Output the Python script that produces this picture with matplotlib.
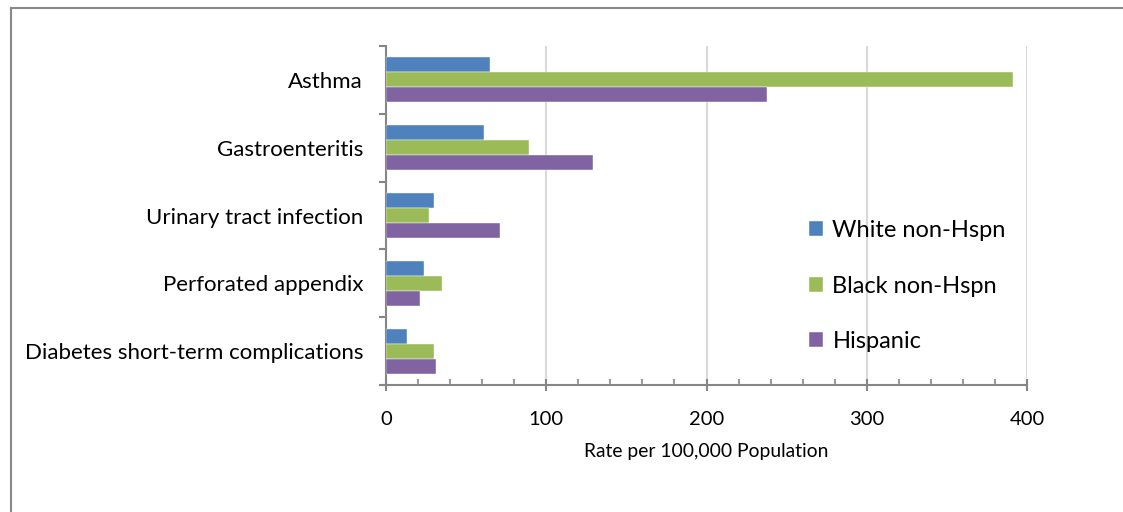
import matplotlib
matplotlib.use("Agg")
import matplotlib.pyplot as plt
import numpy as np
from matplotlib.lines import Line2D
from matplotlib.ticker import MultipleLocator, FixedLocator

categories = ["Asthma", "Gastroenteritis", "Urinary tract infection",
              "Perforated appendix", "Diabetes short-term complications"]
series_names = ["White non-Hspn", "Black non-Hspn", "Hispanic"]
white = [65, 61, 30, 24, 13]
black = [391, 89, 27, 35, 30]
hispanic = [238, 129, 71, 21, 31]
colors = ["#4F81BD", "#9BBB59", "#8064A2"]

plt.rcParams['font.family'] = ['Lato', 'DejaVu Sans']

W, H = 1123, 512
fig = plt.figure(figsize=(W / 100, H / 100), dpi=100)
ax = fig.add_axes([386 / W, 1 - 385 / H, (1027 - 386) / W, (385 - 46) / H])

n = len(categories)
ypos = np.arange(n)[::-1].astype(float)  # Asthma at top
h = 0.221
for i, (vals, name, c) in enumerate(zip([white, black, hispanic], series_names, colors)):
    off = (1 - i) * h
    ax.barh(ypos + off, vals, height=h, color=c, label=name, zorder=3,
            edgecolor='white', linewidth=0.3)

ax.set_xlim(0, 400)
ax.set_ylim(-0.5, n - 0.5)
ax.xaxis.set_major_locator(MultipleLocator(100))
ax.xaxis.set_minor_locator(MultipleLocator(20))
ax.grid(axis='x', which='major', color='#D9D9D9', linewidth=1.5, zorder=0)

ax.yaxis.set_major_locator(FixedLocator(np.arange(-0.5, n, 1.0)))
ax.yaxis.set_minor_locator(FixedLocator(ypos))
ax.set_yticklabels([], minor=False)
ax.set_yticklabels(categories, minor=True)
ax.tick_params(axis='y', which='major', length=5, width=1.5, color='#868686', direction='out')
ax.tick_params(axis='y', which='minor', length=0, pad=16.5, labelsize=16.0, labelcolor='black')
ax.tick_params(axis='x', which='major', length=9, width=1.5, color='#868686', direction='inout',
               labelsize=14.5, pad=14)
ax.tick_params(axis='x', which='minor', length=4, width=1.2, color='#868686', direction='in')

for s in ['top', 'right']:
    ax.spines[s].set_visible(False)
for s in ['left', 'bottom']:
    ax.spines[s].set_color('#868686')
    ax.spines[s].set_linewidth(1.5)

ax.set_xlabel("Rate per 100,000 Population", fontsize=13.9, labelpad=11)

leg = fig.legend(loc='upper left', bbox_to_anchor=(797 / W, 1 - 208 / H), frameon=False,
                 fontsize=17, labelspacing=1.47, handlelength=0.6, handleheight=0.6,
                 handletextpad=0.4, borderpad=0)

# outer frame (top and left edges)
fig.add_artist(Line2D([11 / W, 1], [1 - 8 / H, 1 - 8 / H], color='#888888', linewidth=1.5,
                      transform=fig.transFigure))
fig.add_artist(Line2D([11 / W, 11 / W], [0, 1 - 8 / H], color='#888888', linewidth=1.5,
                      transform=fig.transFigure))

fig.savefig("out.png", dpi=100)
